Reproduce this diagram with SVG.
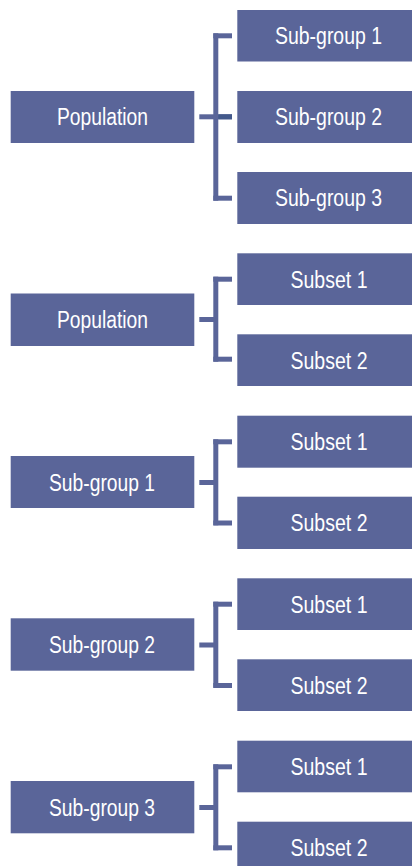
<svg xmlns="http://www.w3.org/2000/svg" width="412" height="866" viewBox="0 0 412 866">
<style>
.box{fill:#5A6599}
.con{fill:#5A6599}
.dark{fill:#43598B}
.t{fill:#ffffff;font-family:"Liberation Sans Narrow","Liberation Sans",Arial,sans-serif;font-size:23.5px;text-anchor:middle}
</style>
<rect width="412" height="866" fill="#ffffff"/>
<g id="connectors">
  <rect class="con" x="213.3" y="33.3" width="5" height="167.4"/>
  <rect class="con" x="213.3" y="33.3" width="18.7" height="5"/>
  <rect class="con" x="213.3" y="195.7" width="18.7" height="5"/>
  <rect class="con" x="199.3" y="114.3" width="32.7" height="5"/>
  <rect class="dark" x="218.3" y="114.3" width="13.7" height="5"/>

  <rect class="con" x="213.3" y="276.7" width="5" height="85"/>
  <rect class="con" x="213.3" y="276.7" width="18.7" height="5"/>
  <rect class="con" x="213.3" y="356.7" width="18.7" height="5"/>
  <rect class="con" x="199.3" y="317" width="16" height="5"/>

  <rect class="con" x="213.3" y="439.3" width="5" height="86"/>
  <rect class="con" x="213.3" y="439.3" width="18.7" height="5"/>
  <rect class="con" x="213.3" y="520.5" width="18.7" height="5"/>
  <rect class="con" x="199.3" y="480" width="16" height="5"/>

  <rect class="con" x="213.3" y="601.7" width="5" height="86"/>
  <rect class="con" x="213.3" y="601.7" width="18.7" height="5"/>
  <rect class="con" x="213.3" y="683" width="18.7" height="5"/>
  <rect class="con" x="199.3" y="642.5" width="16" height="5"/>

  <rect class="con" x="213.3" y="764.3" width="5" height="86"/>
  <rect class="con" x="213.3" y="764.3" width="18.7" height="5"/>
  <rect class="con" x="213.3" y="845.3" width="18.7" height="5"/>
  <rect class="con" x="199.3" y="805" width="16" height="5"/>
</g>

<g id="pop1"><rect class="box" x="10.7" y="91" width="183.6" height="52"/><text class="t" x="102.5" y="125" textLength="91" lengthAdjust="spacingAndGlyphs">Population</text></g>
<g id="sg1"><rect class="box" x="237.3" y="10" width="174.7" height="51.5"/><text class="t" x="328.5" y="44" textLength="107" lengthAdjust="spacingAndGlyphs">Sub-group 1</text></g>
<g id="sg2"><rect class="box" x="237.3" y="91" width="174.7" height="52"/><text class="t" x="328.5" y="125" textLength="107" lengthAdjust="spacingAndGlyphs">Sub-group 2</text></g>
<g id="sg3"><rect class="box" x="237.3" y="172" width="174.7" height="52"/><text class="t" x="328.5" y="206" textLength="107" lengthAdjust="spacingAndGlyphs">Sub-group 3</text></g>

<g id="pop2"><rect class="box" x="10.7" y="293.5" width="183.6" height="52.5"/><text class="t" x="102.5" y="328" textLength="91" lengthAdjust="spacingAndGlyphs">Population</text></g>
<g id="p2s1"><rect class="box" x="237.3" y="253.3" width="174.7" height="51.7"/><text class="t" x="329" y="287.5" textLength="77" lengthAdjust="spacingAndGlyphs">Subset 1</text></g>
<g id="p2s2"><rect class="box" x="237.3" y="334.3" width="174.7" height="51.7"/><text class="t" x="329" y="368.5" textLength="77" lengthAdjust="spacingAndGlyphs">Subset 2</text></g>

<g id="sgp1"><rect class="box" x="10.7" y="456" width="183.6" height="52"/><text class="t" x="102" y="490.5" textLength="106" lengthAdjust="spacingAndGlyphs">Sub-group 1</text></g>
<g id="g1s1"><rect class="box" x="237.3" y="415.7" width="174.7" height="52"/><text class="t" x="329" y="450" textLength="77" lengthAdjust="spacingAndGlyphs">Subset 1</text></g>
<g id="g1s2"><rect class="box" x="237.3" y="496.7" width="174.7" height="52.3"/><text class="t" x="329" y="531" textLength="77" lengthAdjust="spacingAndGlyphs">Subset 2</text></g>

<g id="sgp2"><rect class="box" x="10.7" y="618.3" width="183.6" height="52.4"/><text class="t" x="102" y="653" textLength="106" lengthAdjust="spacingAndGlyphs">Sub-group 2</text></g>
<g id="g2s1"><rect class="box" x="237.3" y="578.3" width="174.7" height="51.7"/><text class="t" x="329" y="612.5" textLength="77" lengthAdjust="spacingAndGlyphs">Subset 1</text></g>
<g id="g2s2"><rect class="box" x="237.3" y="659.3" width="174.7" height="51.7"/><text class="t" x="329" y="693.5" textLength="77" lengthAdjust="spacingAndGlyphs">Subset 2</text></g>

<g id="sgp3"><rect class="box" x="10.7" y="781" width="183.6" height="52.3"/><text class="t" x="102" y="815.5" textLength="106" lengthAdjust="spacingAndGlyphs">Sub-group 3</text></g>
<g id="g3s1"><rect class="box" x="237.3" y="740.7" width="174.7" height="51.6"/><text class="t" x="329" y="775" textLength="77" lengthAdjust="spacingAndGlyphs">Subset 1</text></g>
<g id="g3s2"><rect class="box" x="237.3" y="821.7" width="174.7" height="52"/><text class="t" x="329" y="856" textLength="77" lengthAdjust="spacingAndGlyphs">Subset 2</text></g>
</svg>
